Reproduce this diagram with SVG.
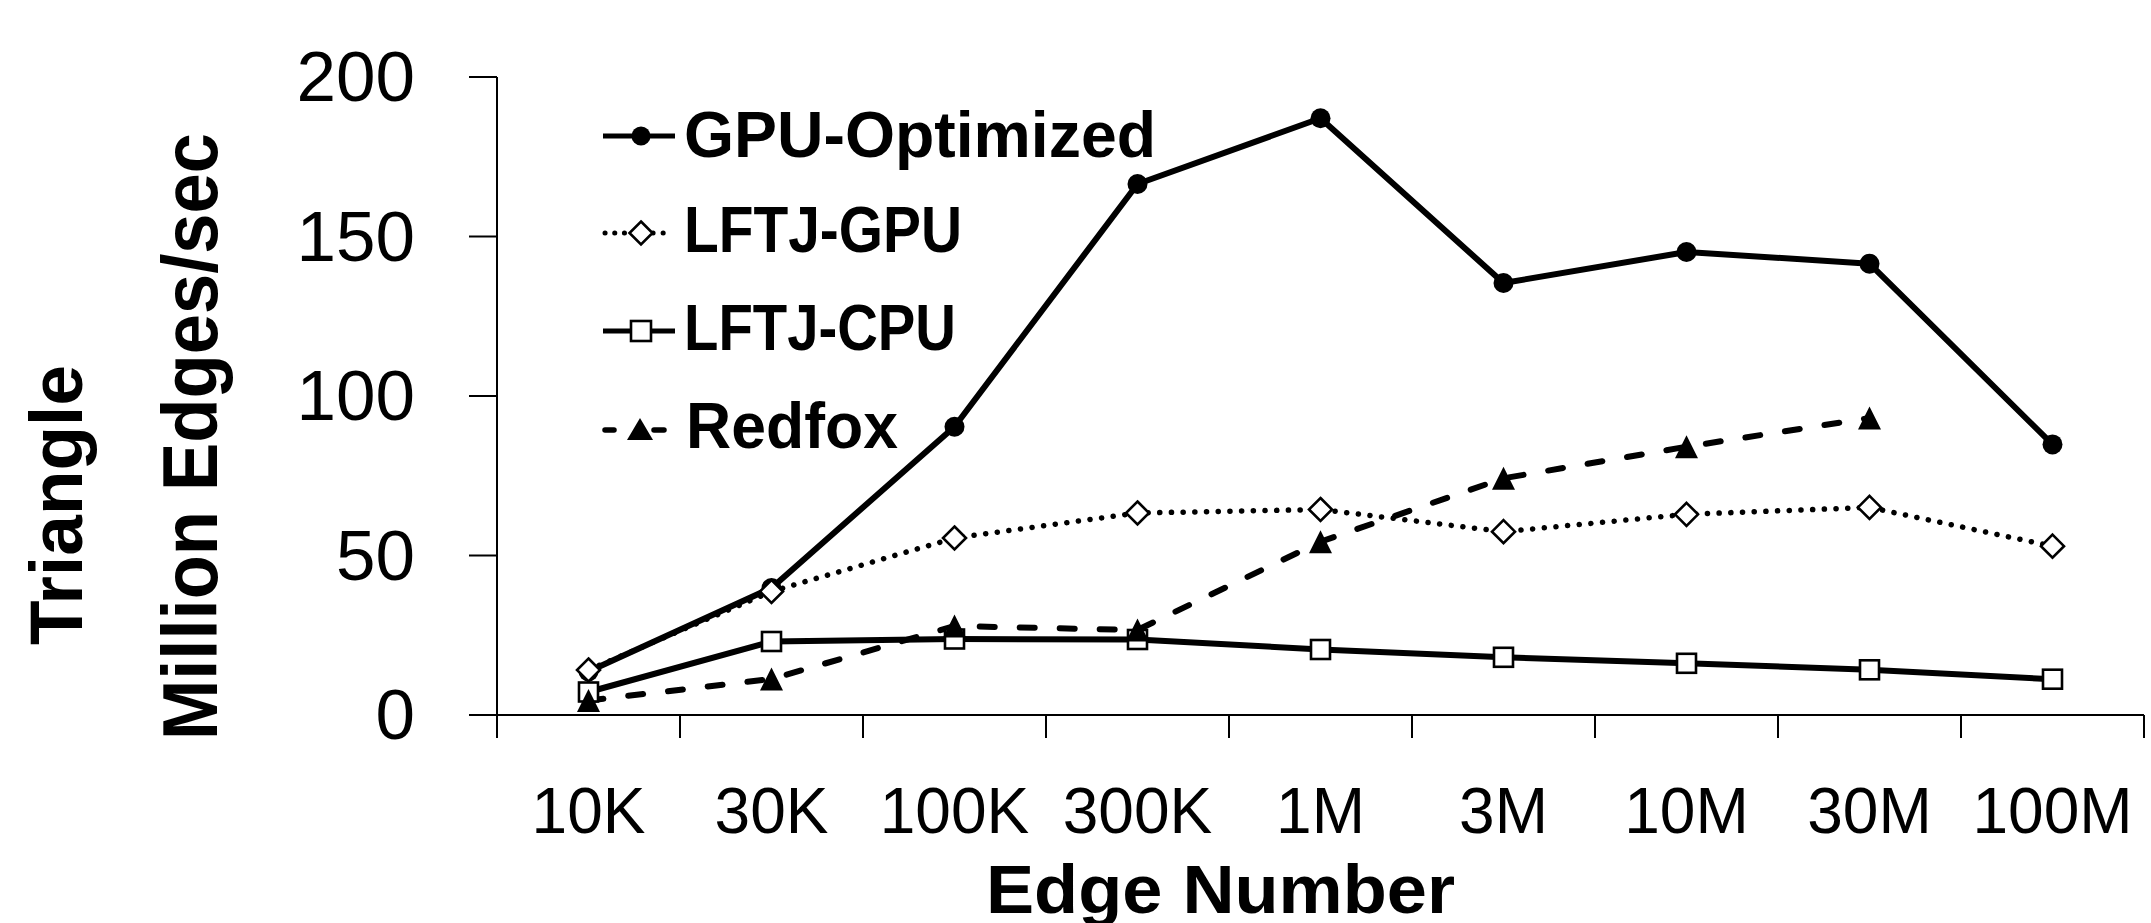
<svg xmlns="http://www.w3.org/2000/svg" xmlns:xlink="http://www.w3.org/1999/xlink" width="2151" height="923" viewBox="0 0 2151 923">
<style>
.ax{stroke:#000;stroke-width:2;fill:none}
.ytl{font-family:"Liberation Sans",Arial,sans-serif;font-size:71px;fill:#000;text-anchor:end}
.xtl{font-family:"Liberation Sans",Arial,sans-serif;font-size:64px;fill:#000;text-anchor:middle}
.ttl{font-family:"Liberation Sans",Arial,sans-serif;font-weight:bold;fill:#000}
.leg{font-family:"Liberation Sans",Arial,sans-serif;font-weight:bold;font-size:65px;fill:#000}
.solid{stroke:#000;stroke-width:6;fill:none;stroke-linejoin:round}
.dot{stroke:#000;stroke-width:5.5;fill:none;stroke-dasharray:0.1 11.6;stroke-linecap:round}
.dash{stroke:#000;stroke-width:6;fill:none;stroke-dasharray:15 25;stroke-linecap:round}
.mc{fill:#000}
.md{fill:#fff;stroke:#000;stroke-width:2.6}
.ms{fill:#fff;stroke:#000;stroke-width:2.6}
.mt{fill:#000}
</style>
<defs>
<circle id="circ" r="10"/>
<path id="diam" d="M0,-11.5 L11.5,0 L0,11.5 L-11.5,0Z"/>
<rect id="sq" x="-9.5" y="-9.5" width="19" height="19"/>
<path id="tri" d="M0,-11.5 L11.5,11.5 L-11.5,11.5Z"/>
</defs>
<rect width="2151" height="923" fill="#fff"/>
<g id="axes">
<line class="ax" x1="497" y1="77" x2="497" y2="738"/>
<line class="ax" x1="469" y1="715" x2="2144" y2="715"/>
<line class="ax" x1="469" y1="77" x2="497" y2="77"/>
<line class="ax" x1="469" y1="236.5" x2="497" y2="236.5"/>
<line class="ax" x1="469" y1="396" x2="497" y2="396"/>
<line class="ax" x1="469" y1="555.5" x2="497" y2="555.5"/>
<line class="ax" x1="680" y1="715" x2="680" y2="738"/>
<line class="ax" x1="863" y1="715" x2="863" y2="738"/>
<line class="ax" x1="1046" y1="715" x2="1046" y2="738"/>
<line class="ax" x1="1229" y1="715" x2="1229" y2="738"/>
<line class="ax" x1="1412" y1="715" x2="1412" y2="738"/>
<line class="ax" x1="1595" y1="715" x2="1595" y2="738"/>
<line class="ax" x1="1778" y1="715" x2="1778" y2="738"/>
<line class="ax" x1="1961" y1="715" x2="1961" y2="738"/>
<line class="ax" x1="2144" y1="715" x2="2144" y2="738"/>
</g>
<g id="y-labels">
<text class="ytl" x="415" y="101">200</text>
<text class="ytl" x="415" y="260.5">150</text>
<text class="ytl" x="415" y="420">100</text>
<text class="ytl" x="415" y="579.5">50</text>
<text class="ytl" x="415" y="739">0</text>
</g>
<g id="x-labels">
<text class="xtl" x="588.5" y="833">10K</text>
<text class="xtl" x="771.5" y="833">30K</text>
<text class="xtl" x="954.5" y="833">100K</text>
<text class="xtl" x="1137.5" y="833">300K</text>
<text class="xtl" x="1320.5" y="833">1M</text>
<text class="xtl" x="1503.5" y="833">3M</text>
<text class="xtl" x="1686.5" y="833">10M</text>
<text class="xtl" x="1869.5" y="833">30M</text>
<text class="xtl" x="2052.5" y="833">100M</text>
</g>
<g id="axis-titles">
<text class="ttl" x="986" y="913" font-size="68" textLength="469" lengthAdjust="spacingAndGlyphs">Edge Number</text>
<text class="ttl" transform="translate(82,505) rotate(-90)" font-size="74" text-anchor="middle" textLength="280" lengthAdjust="spacingAndGlyphs">Triangle</text>
<text class="ttl" transform="translate(217,436.5) rotate(-90)" font-size="77" text-anchor="middle" textLength="607" lengthAdjust="spacingAndGlyphs">Million Edges/sec</text>
</g>
<g id="connectors">
<polyline id="line-gpu-opt" class="solid" points="588.5,671.5 771.5,588 954.5,426.7 1137.5,184 1320.5,118.3 1503.5,283 1686.5,252 1869.5,263.7 2052.5,444.4"/>
<polyline id="line-lftj-gpu" class="dot" points="588.5,670 771.5,591.5 954.5,538 1137.5,513 1320.5,509.5 1503.5,531.7 1686.5,514.3 1869.5,507.4 2052.5,546.2"/>
<polyline id="line-lftj-cpu" class="solid" points="588.5,692 771.5,641.5 954.5,639 1137.5,639.5 1320.5,649.5 1503.5,657.3 1686.5,663.3 1869.5,669.8 2052.5,679.2"/>
<polyline id="line-redfox" class="dash" points="588.5,700.5 771.5,679 954.5,626 1137.5,630 1320.5,541.7 1503.5,478.3 1686.5,446.7 1869.5,418"/>
</g>
<g id="markers-gpu-opt" class="mc">
<use xlink:href="#circ" x="588.5" y="671.5"/>
<use xlink:href="#circ" x="771.5" y="588"/>
<use xlink:href="#circ" x="954.5" y="426.7"/>
<use xlink:href="#circ" x="1137.5" y="184"/>
<use xlink:href="#circ" x="1320.5" y="118.3"/>
<use xlink:href="#circ" x="1503.5" y="283"/>
<use xlink:href="#circ" x="1686.5" y="252"/>
<use xlink:href="#circ" x="1869.5" y="263.7"/>
<use xlink:href="#circ" x="2052.5" y="444.4"/>
</g>
<g id="markers-lftj-gpu" class="md">
<use xlink:href="#diam" x="588.5" y="670"/>
<use xlink:href="#diam" x="771.5" y="591.5"/>
<use xlink:href="#diam" x="954.5" y="538"/>
<use xlink:href="#diam" x="1137.5" y="513"/>
<use xlink:href="#diam" x="1320.5" y="509.5"/>
<use xlink:href="#diam" x="1503.5" y="531.7"/>
<use xlink:href="#diam" x="1686.5" y="514.3"/>
<use xlink:href="#diam" x="1869.5" y="507.4"/>
<use xlink:href="#diam" x="2052.5" y="546.2"/>
</g>
<g id="markers-lftj-cpu" class="ms">
<use xlink:href="#sq" x="588.5" y="692"/>
<use xlink:href="#sq" x="771.5" y="641.5"/>
<use xlink:href="#sq" x="954.5" y="639"/>
<use xlink:href="#sq" x="1137.5" y="639.5"/>
<use xlink:href="#sq" x="1320.5" y="649.5"/>
<use xlink:href="#sq" x="1503.5" y="657.3"/>
<use xlink:href="#sq" x="1686.5" y="663.3"/>
<use xlink:href="#sq" x="1869.5" y="669.8"/>
<use xlink:href="#sq" x="2052.5" y="679.2"/>
</g>
<g id="markers-redfox" class="mt">
<use xlink:href="#tri" x="588.5" y="700.5"/>
<use xlink:href="#tri" x="771.5" y="679"/>
<use xlink:href="#tri" x="954.5" y="626"/>
<use xlink:href="#tri" x="1137.5" y="630"/>
<use xlink:href="#tri" x="1320.5" y="541.7"/>
<use xlink:href="#tri" x="1503.5" y="478.3"/>
<use xlink:href="#tri" x="1686.5" y="446.7"/>
<use xlink:href="#tri" x="1869.5" y="418"/>
</g>
<g id="legend">
<g id="legend-gpu-opt">
<line class="solid" x1="603" y1="136" x2="675" y2="136" style="stroke-width:5"/>
<circle cx="641" cy="136" r="9.5" class="mc"/>
<text class="leg" x="684" y="157" textLength="472" lengthAdjust="spacingAndGlyphs">GPU-Optimized</text>
</g>
<g id="legend-lftj-gpu">
<line class="dot" x1="605" y1="233" x2="626" y2="233" style="stroke-dasharray:0.1 9.6;stroke-width:5"/>
<line class="dot" x1="653" y1="233" x2="664" y2="233" style="stroke-dasharray:0.1 10;stroke-width:5"/>
<use xlink:href="#diam" x="641" y="233" class="md"/>
<text class="leg" x="684" y="252" textLength="278" lengthAdjust="spacingAndGlyphs">LFTJ-GPU</text>
</g>
<g id="legend-lftj-cpu">
<line class="solid" x1="603" y1="331" x2="675" y2="331" style="stroke-width:5"/>
<rect x="631" y="321" width="20" height="20" class="ms"/>
<text class="leg" x="684" y="350" textLength="272" lengthAdjust="spacingAndGlyphs">LFTJ-CPU</text>
</g>
<g id="legend-redfox">
<line x1="605" y1="430" x2="614" y2="430" stroke="#000" stroke-width="5.5" stroke-linecap="round"/>
<line x1="654" y1="430" x2="664" y2="430" stroke="#000" stroke-width="5.5" stroke-linecap="round"/>
<path d="M640,418 L653,440 L627,440Z" class="mt"/>
<text class="leg" x="686" y="448" textLength="212" lengthAdjust="spacingAndGlyphs">Redfox</text>
</g>
</g>
</svg>
